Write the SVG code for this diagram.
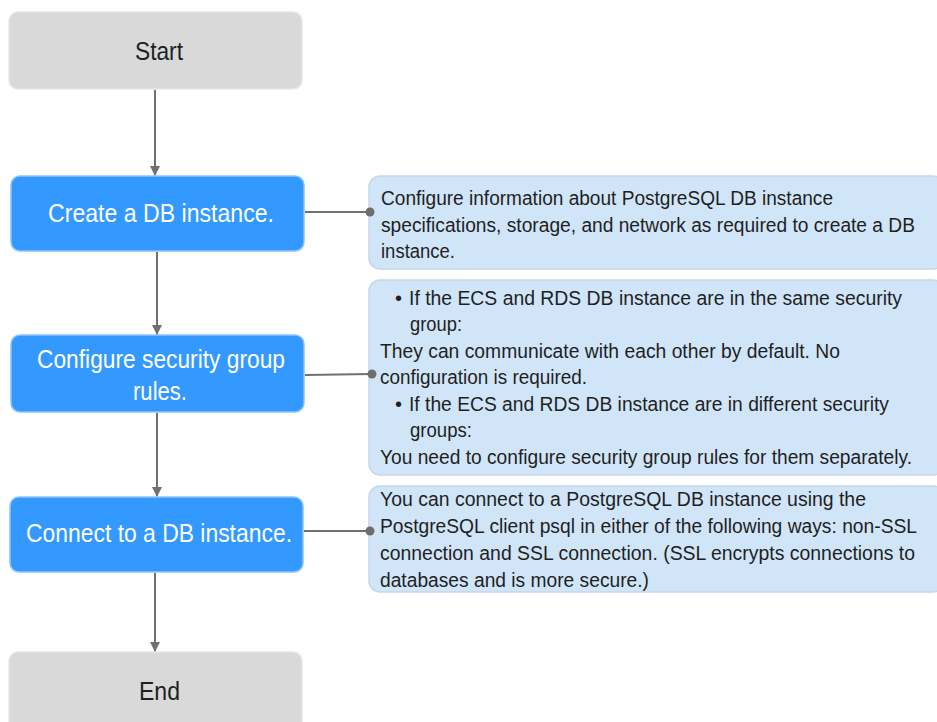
<svg xmlns="http://www.w3.org/2000/svg" width="937" height="722" viewBox="0 0 937 722">
<defs>
<marker id="arr" viewBox="0 0 10 10" refX="9" refY="5" markerWidth="5" markerHeight="5" orient="auto" markerUnits="strokeWidth">
<path d="M0,0 L10,5 L0,10 z" fill="#707070"/>
</marker>
<style>
.term{fill:#d9d9d9;stroke:#e6e6e6;stroke-width:1.5}
.step{fill:#3399ff;stroke:#8cc4ff;stroke-width:1.5}
.note{fill:#d1e5f8;stroke:#c4d6ea;stroke-width:1.5}
.lt{font-family:"Liberation Sans",Arial,sans-serif;font-size:25px;text-anchor:start}
.tw{fill:#ffffff}
.tk{fill:#1f1f1f}
.nt{font-family:"Liberation Sans",Arial,sans-serif;font-size:20px;fill:#1f1f1f}
.ln{stroke:#707070;stroke-width:2;fill:none}
.dot{fill:#6e6e6e}
</style>
</defs>
<rect width="937" height="722" fill="#ffffff"/>
<g id="start">
<rect class="term" x="9" y="12" width="293" height="77" rx="9"/>
<text class="lt tk" x="135" y="60" textLength="48" lengthAdjust="spacingAndGlyphs">Start</text>
</g>
<g id="create">
<rect class="step" x="11" y="176" width="293" height="75" rx="9"/>
<text class="lt tw" x="48" y="222" textLength="226" lengthAdjust="spacingAndGlyphs">Create a DB instance.</text>
</g>
<g id="configure">
<rect class="step" x="11" y="335" width="293" height="77" rx="9"/>
<text class="lt tw" x="37" y="368" textLength="248" lengthAdjust="spacingAndGlyphs">Configure security group</text>
<text class="lt tw" x="133" y="400" textLength="54" lengthAdjust="spacingAndGlyphs">rules.</text>
</g>
<g id="connect">
<rect class="step" x="10" y="497" width="293" height="75" rx="9"/>
<text class="lt tw" x="26" y="542" textLength="266" lengthAdjust="spacingAndGlyphs">Connect to a DB instance.</text>
</g>
<g id="end">
<rect class="term" x="9" y="652" width="293" height="80" rx="9"/>
<text class="lt tk" x="139" y="700" textLength="41" lengthAdjust="spacingAndGlyphs">End</text>
</g>
<g id="note-create">
<rect class="note" x="369" y="176" width="575" height="93" rx="11"/>
<text class="nt" x="381" y="205" textLength="452" lengthAdjust="spacingAndGlyphs">Configure information about PostgreSQL DB instance</text>
<text class="nt" x="381" y="232" textLength="534" lengthAdjust="spacingAndGlyphs">specifications, storage, and network as required to create a DB</text>
<text class="nt" x="381" y="258" textLength="74" lengthAdjust="spacingAndGlyphs">instance.</text>
</g>
<g id="note-configure">
<rect class="note" x="369" y="280" width="575" height="195" rx="11"/>
<text class="nt" x="395" y="305">•</text>
<text class="nt" x="409" y="305" textLength="493" lengthAdjust="spacingAndGlyphs">If the ECS and RDS DB instance are in the same security</text>
<text class="nt" x="410" y="331" textLength="52" lengthAdjust="spacingAndGlyphs">group:</text>
<text class="nt" x="380" y="358" textLength="460" lengthAdjust="spacingAndGlyphs">They can communicate with each other by default. No</text>
<text class="nt" x="380" y="384" textLength="207" lengthAdjust="spacingAndGlyphs">configuration is required.</text>
<text class="nt" x="395" y="411">•</text>
<text class="nt" x="409" y="411" textLength="480" lengthAdjust="spacingAndGlyphs">If the ECS and RDS DB instance are in different security</text>
<text class="nt" x="410" y="437" textLength="62" lengthAdjust="spacingAndGlyphs">groups:</text>
<text class="nt" x="380" y="464" textLength="532" lengthAdjust="spacingAndGlyphs">You need to configure security group rules for them separately.</text>
</g>
<g id="note-connect">
<rect class="note" x="369" y="486" width="575" height="106" rx="11"/>
<text class="nt" x="380" y="506" textLength="486" lengthAdjust="spacingAndGlyphs">You can connect to a PostgreSQL DB instance using the</text>
<text class="nt" x="380" y="533" textLength="537" lengthAdjust="spacingAndGlyphs">PostgreSQL client psql in either of the following ways: non-SSL</text>
<text class="nt" x="380" y="560" textLength="535" lengthAdjust="spacingAndGlyphs">connection and SSL connection. (SSL encrypts connections to</text>
<text class="nt" x="380" y="587" textLength="269" lengthAdjust="spacingAndGlyphs">databases and is more secure.)</text>
</g>
<g id="connectors">
<line class="ln" x1="155" y1="90" x2="155" y2="175" marker-end="url(#arr)"/>
<line class="ln" x1="157" y1="252" x2="157" y2="334" marker-end="url(#arr)"/>
<line class="ln" x1="157" y1="413" x2="157" y2="496" marker-end="url(#arr)"/>
<line class="ln" x1="155" y1="573" x2="155" y2="651" marker-end="url(#arr)"/>
<line class="ln" x1="305" y1="212" x2="370" y2="212"/>
<circle class="dot" cx="370" cy="212" r="4.5"/>
<line class="ln" x1="305" y1="375" x2="372" y2="374"/>
<circle class="dot" cx="372" cy="374" r="4.5"/>
<line class="ln" x1="304" y1="531" x2="370" y2="531"/>
<circle class="dot" cx="370" cy="531" r="4.5"/>
</g>
</svg>
